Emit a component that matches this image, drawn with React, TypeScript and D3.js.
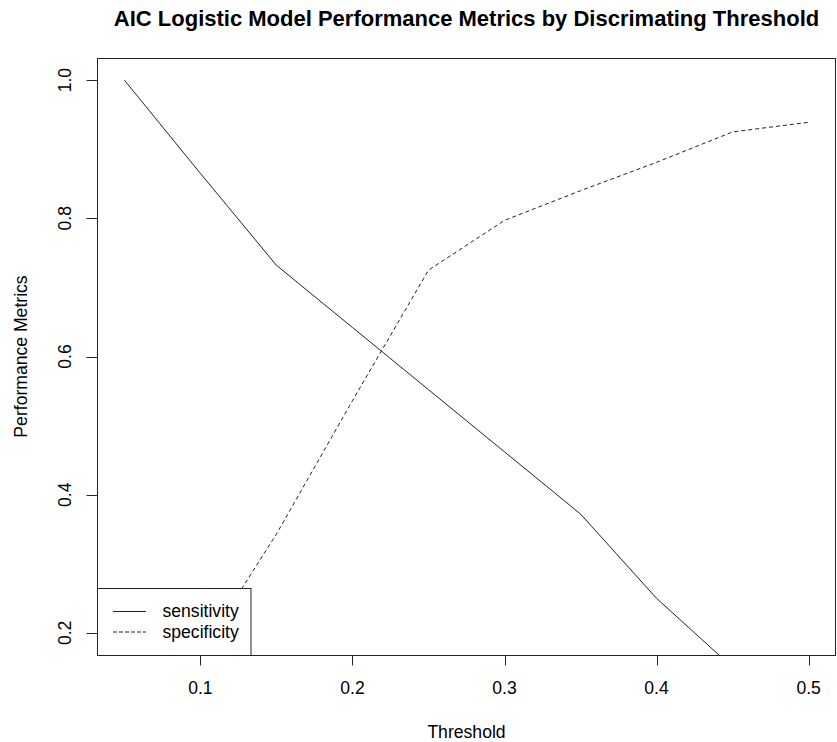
import React from "react";
import * as d3 from "d3";

const thresholds = [0.05, 0.1, 0.15, 0.2, 0.25, 0.3, 0.35, 0.4, 0.45, 0.5];
const sensitivity = [1.0, 0.865, 0.732, 0.642, 0.552, 0.462, 0.372, 0.25, 0.15, 0.08];
const specificity = [0.05, 0.17, 0.343, 0.536, 0.725, 0.797, 0.84, 0.881, 0.925, 0.939];
const xTicks = [0.1, 0.2, 0.3, 0.4, 0.5];
const yTicks = [0.2, 0.4, 0.6, 0.8, 1.0];
const seriesNames = ["sensitivity", "specificity"];

const W = 837;
const H = 742;
const left = 97;
const right = 836;
const top = 58;
const bottom = 655;
const font = "'Liberation Sans', Arial, sans-serif";
const labelSize = 17.6;

export default function App() {
  const x = d3.scaleLinear().domain([0.032, 0.518]).range([left, right]);
  const y = d3.scaleLinear().domain([0.168, 1.032]).range([bottom, top]);

  const line = d3
    .line<[number, number]>()
    .x((d) => x(d[0]))
    .y((d) => y(d[1]));

  const sensPts = thresholds.map((t, i) => [t, sensitivity[i]] as [number, number]);
  const specPts = thresholds.map((t, i) => [t, specificity[i]] as [number, number]);

  const tickLen = 10.5;
  const legendX = left;
  const legendY = 588;
  const legendW = 153.5;
  const legendH = bottom - legendY;
  const rowY = [611, 631.5];

  return (
    <svg
      width={W}
      height={H}
      style={{ position: "absolute", left: 0, top: 0, background: "#fff" }}
      fontFamily={font}
    >
      <rect x={0} y={0} width={W} height={H} fill="#fff" />
      <defs>
        <clipPath id="plot-clip">
          <rect x={left} y={top} width={right - left} height={bottom - top} />
        </clipPath>
      </defs>

      <text
        x={(left + right) / 2}
        y={26}
        textAnchor="middle"
        fontSize={22}
        fontWeight="bold"
        fill="#000"
      >
        AIC Logistic Model Performance Metrics by Discrimating Threshold
      </text>

      <g clipPath="url(#plot-clip)" fill="none" stroke="#222" strokeWidth={1}>
        <path d={line(sensPts) ?? ""} />
        <path d={line(specPts) ?? ""} strokeDasharray="4 3" />
      </g>

      {/* axis ticks */}
      <g stroke="#222" strokeWidth={1}>
        {xTicks.map((t) => (
          <line
            key={t}
            x1={Math.round(x(t)) + 0.5}
            x2={Math.round(x(t)) + 0.5}
            y1={bottom}
            y2={bottom + tickLen}
          />
        ))}
        {yTicks.map((t) => (
          <line
            key={t}
            x1={left - tickLen}
            x2={left}
            y1={Math.round(y(t)) + 0.5}
            y2={Math.round(y(t)) + 0.5}
          />
        ))}
      </g>
      {xTicks.map((t) => (
        <text key={t} x={x(t)} y={694} textAnchor="middle" fontSize={labelSize} fill="#000">
          {t.toFixed(1)}
        </text>
      ))}
      {yTicks.map((t) => (
        <text
          key={t}
          transform={`translate(71,${y(t)}) rotate(-90)`}
          textAnchor="middle"
          fontSize={labelSize}
          fill="#000"
        >
          {t.toFixed(1)}
        </text>
      ))}

      <text x={(left + right) / 2} y={738} textAnchor="middle" fontSize={labelSize} fill="#000">
        Threshold
      </text>
      <text
        transform={`translate(26.5,${(top + bottom) / 2}) rotate(-90)`}
        textAnchor="middle"
        fontSize={labelSize}
        fill="#000"
      >
        Performance Metrics
      </text>

      {/* legend */}
      <rect
        x={legendX + 0.5}
        y={legendY + 0.5}
        width={legendW}
        height={legendH}
        fill="#fff"
        stroke="#222"
        strokeWidth={1}
      />
      {seriesNames.map((name, i) => (
        <g key={name}>
          <line
            x1={113}
            x2={146}
            y1={rowY[i] + 0.5}
            y2={rowY[i] + 0.5}
            stroke="#222"
            strokeWidth={1}
            strokeDasharray={i === 1 ? "4 2" : undefined}
          />
          <text x={162.5} y={rowY[i] + 6.3} fontSize={labelSize} fill="#000">
            {name}
          </text>
        </g>
      ))}

      {/* plot box */}
      <rect
        x={left + 0.5}
        y={top + 0.5}
        width={right - left - 1}
        height={bottom - top}
        fill="none"
        stroke="#222"
        strokeWidth={1}
      />
    </svg>
  );
}
